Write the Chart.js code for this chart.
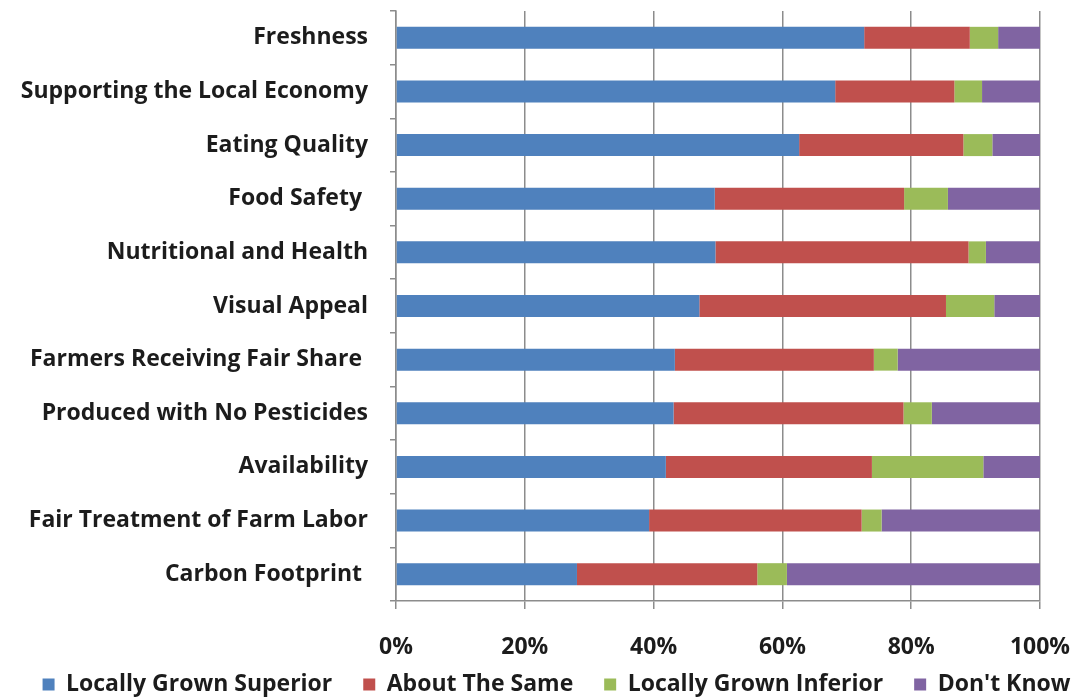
<!DOCTYPE html>
<html lang="en">
<head>
  <meta charset="UTF-8" />
  <title>Locally Grown vs Other Produce</title>
  <style>
    body {
      margin: 0;
      background-color: #fff;
    }
    .wrap {
      width: 1079px;
      height: 700px;
      position: relative;
    }
  </style>
</head>
<body>
  <div class="wrap">
    <canvas id="chart"></canvas>
  </div>

  <script src="https://cdn.jsdelivr.net/npm/chart.js"></script>
  <script>
    // categories, top to bottom
    const categories = [
      'Freshness',
      'Supporting the Local Economy',
      'Eating Quality',
      'Food Safety ',
      'Nutritional and Health',
      'Visual Appeal',
      'Farmers Receiving Fair Share ',
      'Produced with No Pesticides',
      'Availability',
      'Fair Treatment of Farm Labor',
      'Carbon Footprint '
    ];

    // percent of respondents
    const superior = [72.7, 68.2, 62.6, 49.5, 49.6, 47.1, 43.3, 43.1, 41.9, 39.3, 28.1];
    const aboutSame = [16.4, 18.5, 25.5, 29.4, 39.3, 38.3, 30.9, 35.7, 32.0, 33.0, 28.0];
    const inferior = [4.4, 4.3, 4.5, 6.8, 2.7, 7.5, 3.7, 4.4, 17.3, 3.1, 4.6];
    const dontKnow = [6.5, 9.0, 7.4, 14.3, 8.4, 7.1, 22.1, 16.8, 8.8, 24.6, 39.3];

    const xTicks = [0, 20, 40, 60, 80, 100];

    const fontFamily = "'Open Sans', 'Liberation Sans', sans-serif";
    const gridGray = '#8c8c8c';
    const textColor = '#1c1c1c';

    const barOpts = { barPercentage: 0.41, categoryPercentage: 1.0 };

    // nudge the legend row a bit right, like the original
    const legendShift = {
      id: 'legendShift',
      afterLayout(chart) {
        chart.legend.left += 17;
        chart.legend.right += 17;
      }
    };

    new Chart(document.getElementById('chart'), {
      type: 'bar',
      data: {
        labels: categories,
        datasets: [
          { label: 'Locally Grown Superior', data: superior, backgroundColor: '#4f81bd', ...barOpts },
          { label: 'About The Same', data: aboutSame, backgroundColor: '#c0504d', ...barOpts },
          { label: 'Locally Grown Inferior', data: inferior, backgroundColor: '#9bbb59', ...barOpts },
          { label: "Don't Know", data: dontKnow, backgroundColor: '#8064a2', ...barOpts }
        ]
      },
      plugins: [legendShift],
      options: {
        indexAxis: 'y',
        responsive: true,
        maintainAspectRatio: false,
        animation: false,
        layout: { padding: { top: 11, right: 0, left: 0, bottom: -6 } },
        plugins: {
          tooltip: { enabled: false },
          legend: {
            position: 'bottom',
            labels: {
              boxWidth: 12,
              boxHeight: 12,
              padding: 19,
              color: textColor,
              font: { family: fontFamily, size: 23, weight: 'bold' },
              generateLabels: chart => {
                const items = Chart.defaults.plugins.legend.labels.generateLabels(chart);
                items.forEach((it, i) => { if (i < items.length - 1) it.text += '  '; });
                return items;
              }
            }
          }
        },
        scales: {
          x: {
            stacked: true,
            min: 0,
            max: 100,
            afterBuildTicks: axis => { axis.ticks = xTicks.map(v => ({ value: v })); },
            afterFit: axis => {
              axis.height = 53;
              axis.paddingLeft = 0;
              axis.paddingRight = 39;
            },
            grid: { color: gridGray, lineWidth: 1.5, tickLength: 8 },
            border: { color: gridGray, width: 1.5 },
            ticks: {
              padding: 25,
              color: textColor,
              font: { family: fontFamily, size: 23, weight: 'bold' },
              callback: v => v + '%'
            }
          },
          y: {
            stacked: true,
            afterFit: axis => {
              axis.width = 396;
              axis.paddingTop = 0;
              axis.paddingBottom = 0;
            },
            grid: { drawOnChartArea: false, color: gridGray, lineWidth: 1.5, tickLength: 6 },
            border: { color: gridGray, width: 1.5 },
            ticks: {
              padding: 22,
              color: textColor,
              font: { family: fontFamily, size: 23, weight: 'bold' }
            }
          }
        }
      }
    });
  </script>
</body>
</html>
